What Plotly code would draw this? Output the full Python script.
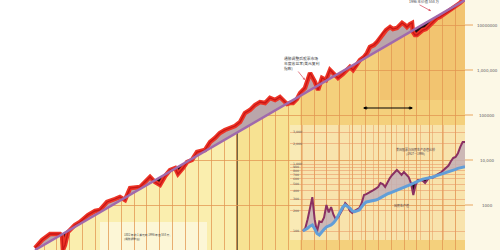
import numpy as np
import plotly.graph_objects as go

# ---------------- data ----------------
red_years = [1802.0, 1805.2, 1808.8, 1813.3, 1814.2, 1814.6, 1815.5, 1816.9, 1820.0, 1822.3,
             1825.9, 1829.1, 1831.3, 1834.5, 1838.1, 1840.3, 1842.6, 1844.9, 1849.4, 1851.6,
             1853.9, 1856.1, 1858.4, 1860.7, 1862.9, 1865.2, 1866.5, 1868.8, 1870.6, 1872.8,
             1875.1, 1878.7, 1881.0, 1883.2, 1885.4, 1887.7, 1890.0, 1892.2, 1894.5, 1896.7,
             1899.0, 1901.3, 1903.5, 1905.8, 1908.0, 1910.3, 1912.5, 1913.9, 1915.7, 1917.0,
             1918.4, 1920.2, 1921.6, 1923.8, 1926.1, 1928.3, 1929.7, 1931.5, 1933.3, 1935.1,
             1937.3, 1938.7, 1940.9, 1942.8, 1944.1, 1945.5, 1947.3, 1948.6, 1950.4, 1951.8,
             1953.1, 1954.9, 1956.3, 1957.6, 1959.0, 1960.4, 1962.2, 1963.5, 1965.3, 1966.7,
             1967.6, 1968.9, 1969.8, 1971.2, 1972.1, 1972.5, 1973.4, 1974.3, 1975.7, 1977.0,
             1978.4, 1980.2, 1981.6, 1983.4, 1984.7, 1986.1, 1987.9, 1989.2, 1991.0, 1992.4,
             1993.7, 1995.1, 1996.0]
red_values = [111, 167, 227, 227, 205, 100, 129, 251, 359, 419,
              599, 736, 774, 1166, 1359, 1506, 1292, 2387, 2512, 3243,
              4190, 3243, 2783, 4407, 5995, 6640, 4885, 6640, 9030, 10000,
              15060, 16680, 25120, 30810, 39810, 46420, 51400, 56990, 69880, 110800,
              129200, 166800, 194500, 184800, 238700, 215400, 251200, 215400, 175400, 184800,
              184800, 226800, 308100, 398100, 857700, 541200, 359400, 664000, 599500, 1000000,
              774300, 664000, 814700, 1052000, 1166000, 1000000, 1292000, 1668000, 1945000, 2387000,
              3243000, 3594000, 4190000, 5140000, 6640000, 7743000, 9030000, 8147000, 8577000, 10000000,
              11080000, 10000000, 9030000, 10520000, 11080000, 6984000, 5995000, 5995000, 6984000, 7743000,
              8147000, 10000000, 11660000, 14300000, 15060000, 16680000, 19450000, 21540000, 23870000, 27830000,
              30810000, 35940000, 38000000]
trend_years = [1802, 1996]
trend_values = [100, 35940000]

inset_years = list(range(1927, 1997))
inset_stock = [100, 110, 150, 230, 320, 150, 97, 140, 136, 160,
               245, 190, 228, 175, 150, 160, 185, 215, 262, 240,
               200, 186, 200, 210, 220, 260, 345, 355, 369, 390,
               409, 430, 454, 520, 500, 454, 540, 617, 686, 750,
               814, 750, 686, 760, 700, 640, 520, 345, 485, 577,
               577, 560, 520, 580, 640, 620, 640, 690, 720, 760,
               820, 870, 950, 1100, 1231, 1270, 1450, 1800, 2130, 2130]
inset_gnp = [100, 104, 110, 118, 123, 108, 92, 87, 97, 106,
             115, 118, 123, 132, 146, 170, 200, 228, 245, 235,
             220, 200, 195, 200, 206, 230, 255, 271, 275, 280,
             285, 290, 300, 315, 330, 345, 358, 369, 380, 395,
             408, 420, 430, 445, 460, 478, 495, 515, 540, 565,
             585, 595, 605, 612, 620, 635, 655, 672, 686, 700,
             720, 740, 755, 775, 800, 830, 860, 880, 895, 910]

right_label_values = [10000000, 1000000, 100000, 10000, 1000]
right_label_text = ["10000000", "1,000,000", "100000", "10,000", "1000"]
inset_tick_values = [100, 200, 300, 400, 500, 600, 700, 800, 900, 1000, 2000, 3000]
inset_tick_text = ["100", "200", "300", "400", "500", "600", "700", "800", "900",
                   "1,000", "2,000", "3,000"]

assert len(red_years) == len(red_values)
assert len(inset_years) == len(inset_stock) == len(inset_gnp)

# ---------------- geometry ----------------
W, H = 500, 250
X0, X1 = 1786.2, 1996.0
Y0, Y1 = 2.0, 7.556
MAIN_DOM = 0.93


def split(x, a, b):
    """insert crossing points between two log-space series a and b"""
    xs, A, B = [x[0]], [a[0]], [b[0]]
    for i in range(1, len(x)):
        d0, d1 = a[i - 1] - b[i - 1], a[i] - b[i]
        if d0 * d1 < 0:
            t = d0 / (d0 - d1)
            xc = x[i - 1] + t * (x[i] - x[i - 1])
            ac = a[i - 1] + t * (a[i] - a[i - 1])
            xs.append(xc); A.append(ac); B.append(ac)
        xs.append(x[i]); A.append(a[i]); B.append(b[i])
    return np.array(xs), np.array(A), np.array(B)


def px_to_year(px):
    return X0 + px / (W * MAIN_DOM) * (X1 - X0)


def P(x, y):
    return x / W, 1 - y / H


lr = np.log10(red_values)
lt = np.interp(red_years, trend_years, np.log10(trend_values))
xs, A, B = split(red_years, lr, lt)
hi = np.maximum(A, B)
lo = np.minimum(A, B)

fig = go.Figure()
nohover = dict(hoverinfo="skip", showlegend=False)

# white mask above the curve
fig.add_trace(go.Scatter(
    x=[X0 - 5, xs[0]] + list(xs) + [xs[-1], X0 - 5],
    y=[1, 1] + list(10 ** hi) + [1e10, 1e10],
    fill="toself", fillcolor="white", mode="lines", line=dict(width=0), **nohover))
# gray where market above trend
fig.add_trace(go.Scatter(x=xs, y=10 ** B, mode="lines", line=dict(width=0), **nohover))
fig.add_trace(go.Scatter(x=xs, y=10 ** hi, mode="lines", line=dict(width=0),
                         fill="tonexty", fillcolor="rgb(186,166,170)", **nohover))
# black where below
fig.add_trace(go.Scatter(x=xs, y=10 ** lo, mode="lines", line=dict(width=0), **nohover))
fig.add_trace(go.Scatter(x=xs, y=10 ** B, mode="lines", line=dict(width=0),
                         fill="tonexty", fillcolor="rgb(25,15,20)", **nohover))
# red line
fig.add_trace(go.Scatter(x=red_years, y=red_values, mode="lines",
                         line=dict(color="rgb(236,52,38)", width=4.5), **nohover))
fig.add_trace(go.Scatter(x=red_years, y=red_values, mode="lines",
                         line=dict(color="rgb(200,22,22)", width=1.3), **nohover))
# trend
fig.add_trace(go.Scatter(x=trend_years, y=trend_values, mode="lines",
                         line=dict(color="rgb(160,106,172)", width=2.5), **nohover))

# ---------------- inset ----------------
ls = np.log10(inset_stock)
lg = np.log10(inset_gnp)
xs2, S, G = split(inset_years, ls, lg)
hi2 = np.maximum(S, G)
lo2 = np.minimum(S, G)
ia = dict(xaxis="x2", yaxis="y2")
fig.add_trace(go.Scatter(x=xs2, y=10 ** G, mode="lines", line=dict(width=0), **ia, **nohover))
fig.add_trace(go.Scatter(x=xs2, y=10 ** hi2, mode="lines", line=dict(width=0), fill="tonexty",
                         fillcolor="rgba(196,176,182,0.85)", **ia, **nohover))
fig.add_trace(go.Scatter(x=xs2, y=10 ** lo2, mode="lines", line=dict(width=0), **ia, **nohover))
fig.add_trace(go.Scatter(x=xs2, y=10 ** G, mode="lines", line=dict(width=0), fill="tonexty",
                         fillcolor="rgb(25,15,20)", **ia, **nohover))
fig.add_trace(go.Scatter(x=inset_years, y=inset_stock, mode="lines",
                         line=dict(color="rgb(138,48,98)", width=2), **ia, **nohover))
fig.add_trace(go.Scatter(x=inset_years, y=inset_gnp, mode="lines",
                         line=dict(color="rgb(98,158,216)", width=3), **ia, **nohover))

# ---------------- shapes ----------------
shapes = []
bands = [(35, 237, "rgb(250,238,174)"), (237, 300, "rgb(247,226,146)"),
         (300, 465, "rgb(244,208,124)")]
for a, b, c in bands:
    shapes.append(dict(type="rect", xref="x", yref="paper", x0=px_to_year(a), x1=px_to_year(b),
                       y0=0, y1=1, fillcolor=c, line=dict(width=0), layer="below"))
shapes.append(dict(type="rect", xref="x", yref="paper", x0=px_to_year(380), x1=px_to_year(465),
                   y0=0.6, y1=1, fillcolor="rgb(242,196,112)", line=dict(width=0), layer="below"))
# pale box behind bottom note
shapes.append(dict(type="rect", xref="x", yref="paper", x0=px_to_year(100), x1=px_to_year(207),
                   y0=0, y1=0.112, fillcolor="rgba(253,248,224,0.8)", line=dict(width=0),
                   layer="below"))
# dark vertical fold line
shapes.append(dict(type="line", xref="x", yref="paper", x0=px_to_year(237), x1=px_to_year(237),
                   y0=0, y1=0.505, line=dict(color="rgb(70,60,40)", width=1.5), layer="below"))
# cream band at right
shapes.append(dict(type="rect", xref="paper", yref="paper", x0=MAIN_DOM, x1=1, y0=0, y1=1,
                   fillcolor="rgb(252,248,230)", line=dict(width=0), layer="below"))
# inset background
shapes.append(dict(type="rect", xref="x2 domain", yref="y2 domain", x0=0, x1=1, y0=0, y1=1,
                   fillcolor="rgba(250,240,205,0.6)", line=dict(width=0), layer="below"))
# short ticks for right labels
for v in right_label_values:
    yp = (np.log10(v) - Y0) / (Y1 - Y0)
    shapes.append(dict(type="line", xref="paper", yref="paper", x0=MAIN_DOM, x1=0.946,
                       y0=yp, y1=yp, line=dict(color="rgb(232,165,95)", width=1)))
# black double arrow shaft
x0p, yp0 = P(364, 108)
x1p, _ = P(412, 108)
shapes.append(dict(type="line", xref="paper", yref="paper", x0=x0p, x1=x1p, y0=yp0, y1=yp0,
                   line=dict(color="black", width=1)))

# ---------------- annotations ----------------
ann = []
for v, t in zip(right_label_values, right_label_text):
    yp = (np.log10(v) - Y0) / (Y1 - Y0)
    ann.append(dict(xref="paper", yref="paper", x=487 / W, y=yp, text=t, showarrow=False,
                    font=dict(size=4, color="rgb(95,95,95)", family="DejaVu Sans"),
                    xanchor="center", yanchor="middle"))

cjk = "Noto Sans CJK SC"
x, y = P(282, 54)
ann.append(dict(xref="paper", yref="paper", x=x, y=y, xanchor="left", yanchor="top",
                text="通胀调整后股票市场<br>年度收益率(美元复利<br>指数)", align="left",
                showarrow=False, font=dict(size=3.8, color="rgb(60,60,60)", family=cjk)))
x, y = P(305, 80)
ann.append(dict(xref="paper", yref="paper", x=x, y=y, ax=-8, ay=-10, text="", showarrow=True,
                arrowhead=2, arrowsize=0.6, arrowwidth=0.8, arrowcolor="rgb(220,90,105)"))
x, y = P(407, 1)
ann.append(dict(xref="paper", yref="paper", x=x, y=y, xanchor="left", yanchor="middle",
                text="1996 年价值 558 万", showarrow=False,
                font=dict(size=3.5, color="rgb(70,70,70)", family=cjk)))
x, y = P(431, 11)
ann.append(dict(xref="paper", yref="paper", x=x, y=y, ax=-13, ay=-7, text="", showarrow=True,
                arrowhead=2, arrowsize=0.6, arrowwidth=0.8, arrowcolor="rgb(220,90,105)"))
x, y = P(122, 231)
ann.append(dict(xref="paper", yref="paper", x=x, y=y, xanchor="left", yanchor="top",
                text="1802 年的 1 美元到 1996 年值 558 万,<br>(通胀调整后)", align="left",
                showarrow=False, font=dict(size=2.8, color="rgb(70,70,70)", family=cjk)))
# black double arrow heads
for xa, d in ((413, -6), (363, 6)):
    x, y = P(xa, 108)
    ann.append(dict(xref="paper", yref="paper", x=x, y=y, ax=d, ay=0, text="", showarrow=True,
                    arrowhead=2, arrowsize=0.7, arrowwidth=1, arrowcolor="black"))
x, y = P(415, 145)
ann.append(dict(xref="paper", yref="paper", x=x, y=y, xanchor="center", yanchor="top",
                text="美国股票与国民生产总值比较<br>(1927－1996)", showarrow=False,
                font=dict(size=3, color="rgb(80,60,70)", family=cjk)))
x, y = P(401, 205)
ann.append(dict(xref="paper", yref="paper", x=x, y=y, xanchor="center", yanchor="middle",
                text="国民生产值", showarrow=False,
                font=dict(size=3, color="rgb(80,60,70)", family=cjk)))

grid_main = "rgba(226,150,80,0.75)"
fig.update_layout(
    width=W, height=H, margin=dict(l=0, r=0, t=0, b=0),
    paper_bgcolor="white", plot_bgcolor="rgba(0,0,0,0)", showlegend=False,
    shapes=shapes, annotations=ann,
    xaxis=dict(domain=[0, MAIN_DOM], range=[X0, X1], showticklabels=False, ticks="",
               showgrid=True, gridcolor=grid_main, gridwidth=1, tick0=1893.1, dtick=5.8,
               zeroline=False, showline=False, fixedrange=True),
    yaxis=dict(domain=[0, 1], type="log", range=[Y0, Y1], showticklabels=False, ticks="",
               showgrid=True, gridcolor=grid_main, gridwidth=1, dtick=1,
               zeroline=False, showline=False, fixedrange=True),
    xaxis2=dict(domain=[0.58, MAIN_DOM], anchor="y2", range=[1921.5, 1996],
                showticklabels=False, ticks="", showgrid=True,
                gridcolor="rgba(232,160,100,0.55)", tick0=1927, dtick=5,
                zeroline=False, showline=False),
    yaxis2=dict(domain=[0.04, 0.5], anchor="x2", type="log", range=[1.866, 3.582],
                tickvals=inset_tick_values, ticktext=inset_tick_text,
                ticklabelposition="inside", ticks="",
                tickfont=dict(size=3.2, color="rgb(90,90,90)", family="DejaVu Sans"),
                showgrid=True, gridcolor="rgba(232,150,100,0.55)",
                zeroline=False, showline=False),
)

fig.write_html("out.html")
